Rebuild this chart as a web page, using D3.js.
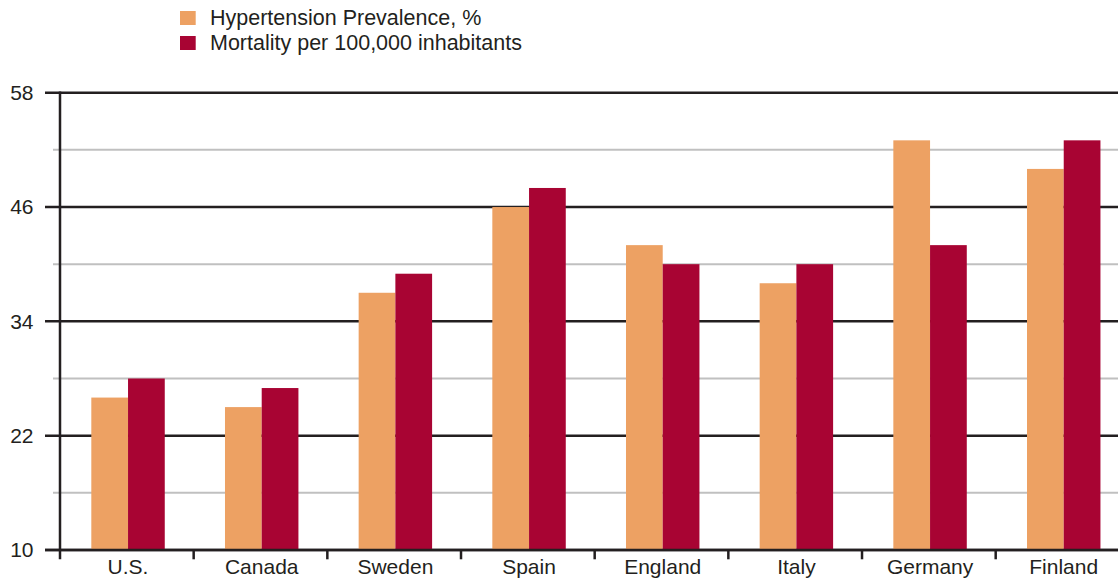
<!DOCTYPE html>
<html><head><meta charset="utf-8">
<script src="https://cdn.jsdelivr.net/npm/d3@7/dist/d3.min.js"></script>
<style>
html,body{margin:0;padding:0;background:#fff;}
svg{display:block;font-family:"Liberation Sans",Arial,Helvetica,sans-serif;}
</style></head>
<body><svg id="chart" width="1118" height="580"></svg>
<script>
const categories = ["U.S.", "Canada", "Sweden", "Spain", "England", "Italy", "Germany", "Finland"];
const seriesNames = ["Hypertension Prevalence, %", "Mortality per 100,000 inhabitants"];
const hypertension = [26, 25, 37, 46, 42, 38, 53, 50];
const mortality = [28, 27, 39, 48, 40, 40, 42, 53];
const majorTicks = [10, 22, 34, 46, 58];
const minorTicks = [16, 28, 40, 52];
const colors = ["#EDA163", "#A80433"];

const svg = d3.select("#chart");
const axisColor = "#231f20";
const textColor = "#231f20";
const x = d3.scaleBand().domain(categories).range([60, 60 + 8 * 133.67]).padding(0);
const x1 = d3.scaleBand().domain(seriesNames).range([0, x.bandwidth()]).paddingInner(0).paddingOuter(0.82);
const y = d3.scaleLinear().domain([10, 58]).range([550, 92.7]);

// minor gridlines
svg.append("g").selectAll("line").data(minorTicks).join("line")
  .attr("x1", 53).attr("x2", 1118)
  .attr("y1", d => y(d)).attr("y2", d => y(d))
  .attr("stroke", "#c0c0c0").attr("stroke-width", 2);

// major gridlines
svg.append("g").selectAll("line").data(majorTicks).join("line")
  .attr("x1", 45).attr("x2", 1118)
  .attr("y1", d => y(d)).attr("y2", d => y(d))
  .attr("stroke", axisColor).attr("stroke-width", 2.5);

// bars
const data = categories.map((c, i) => ({c, vals: [hypertension[i], mortality[i]]}));
const g = svg.append("g").selectAll("g").data(data).join("g")
  .attr("transform", d => `translate(${x(d.c) + 1.2},0)`);
g.selectAll("rect").data(d => d.vals.map((v, k) => ({s: seriesNames[k], v, k}))).join("rect")
  .attr("x", d => x1(d.s)).attr("width", x1.bandwidth())
  .attr("y", d => y(d.v)).attr("height", d => y(10) - y(d.v))
  .attr("fill", d => colors[d.k]);

// y axis line
svg.append("line").attr("x1", 60).attr("x2", 60).attr("y1", y(58) - 1.25).attr("y2", 559.3)
  .attr("stroke", axisColor).attr("stroke-width", 2.5);
// bottom axis line
svg.append("line").attr("x1", 45).attr("x2", 1118).attr("y1", y(10)).attr("y2", y(10))
  .attr("stroke", axisColor).attr("stroke-width", 2.5);
// x ticks at category boundaries
svg.append("g").selectAll("line").data(categories.slice(1)).join("line")
  .attr("x1", d => x(d)).attr("x2", d => x(d))
  .attr("y1", y(10)).attr("y2", 559.3)
  .attr("stroke", axisColor).attr("stroke-width", 2.5);

// y labels
svg.append("g").selectAll("text").data(majorTicks).join("text")
  .attr("x", 33.5).attr("y", d => y(d)).attr("dy", "0.35em")
  .attr("text-anchor", "end").attr("font-size", 21).attr("fill", textColor)
  .text(d => d);

// x labels
svg.append("g").selectAll("text").data(categories).join("text")
  .attr("x", d => x(d) + x.bandwidth() / 2 + 1.2).attr("y", 574.3)
  .attr("text-anchor", "middle").attr("font-size", 21).attr("fill", textColor)
  .text(d => d);

// legend
const lg = svg.append("g").selectAll("g").data(seriesNames).join("g")
  .attr("transform", (d, i) => `translate(180,${11 + i * 25})`);
lg.append("rect").attr("width", 15.7).attr("height", 14).attr("fill", (d, i) => colors[i]);
lg.append("text").attr("x", 30).attr("y", 14).attr("font-size", 21.5).attr("fill", textColor).text(d => d);
</script></body></html>
